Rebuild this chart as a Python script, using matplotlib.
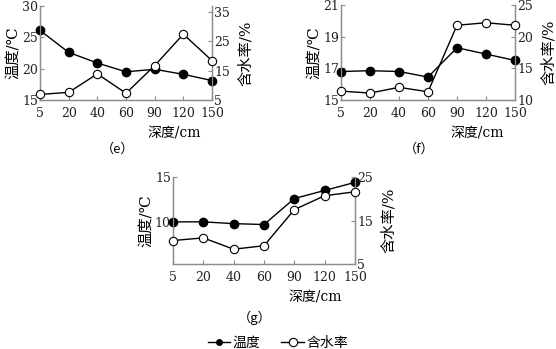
import matplotlib
matplotlib.use("Agg")
import matplotlib.pyplot as plt
from matplotlib.lines import Line2D

plt.rcParams['font.family'] = ['DejaVu Serif', 'Noto Sans CJK SC']

depths = ['5', '20', '40', '60', '90', '120', '150']

temp_e = [26.1, 22.6, 20.9, 19.5, 19.9, 19.1, 18.1]
moist_e = [6.9, 7.6, 13.9, 7.3, 16.7, 27.4, 18.4]

temp_f = [16.8, 16.85, 16.8, 16.45, 18.3, 17.9, 17.5]
moist_f = [11.4, 11.1, 12.0, 11.3, 21.8, 22.2, 21.8]

temp_g = [10.0, 10.0, 9.8, 9.7, 12.6, 13.5, 14.4]
moist_g = [10.4, 11.0, 8.4, 9.2, 17.5, 20.7, 21.6]

W, H = 556, 349
fig = plt.figure(figsize=(W / 100, H / 100), dpi=100)

grey = '#8c8c8c'


def box(l, r, t, b):
    return [l / W, (H - b) / H, (r - l) / W, (b - t) / H]


def panel(rect, temp, moist, tlim, tticks, mlim, mticks, tag, tagy):
    ax = fig.add_axes(rect)
    ax2 = ax.twinx()
    x = range(len(depths))
    ax.plot(x, temp, color='black', lw=1, marker='o', ms=6,
            mfc='black', mec='black', clip_on=False, zorder=3)
    ax2.plot(x, moist, color='black', lw=1, marker='o', ms=6,
             mfc='white', mec='black', mew=0.8, clip_on=False, zorder=3)
    ax.set_xlim(0, len(depths) - 1)
    ax.set_ylim(*tlim)
    ax2.set_ylim(*mlim)
    ax.set_xticks(list(x))
    ax.set_xticklabels(depths)
    ax.set_yticks(tticks)
    ax2.set_yticks(mticks)
    for a in (ax, ax2):
        a.spines['top'].set_visible(False)
        for s in ('left', 'right', 'bottom'):
            a.spines[s].set_color(grey)
            a.spines[s].set_linewidth(0.9)
        a.tick_params(direction='in', length=3, width=0.8, color=grey,
                      labelsize=9, pad=1.5, labelcolor='#222222')
    ax.tick_params(axis='x', pad=5)
    ax.set_ylabel('温度/℃', fontsize=11, labelpad=1)
    ax2.set_ylabel('含水率/%', fontsize=11, rotation=90, labelpad=6)
    ax.set_xlabel('深度/cm', fontsize=10, labelpad=5, x=0.78)
    l, b, w, h = rect
    fig.text(l + w * 0.45, tagy, tag, fontsize=9.5, ha='center', va='center',
             family=['Noto Sans CJK SC'])
    return ax


panel(box(40, 212, 6, 100), temp_e, moist_e, (15, 30), [15, 20, 25, 30],
      (5, 37), [5, 15, 25, 35], '（e）', 1 - 149 / H)
panel(box(341, 515, 5, 100), temp_f, moist_f, (15, 21), [15, 17, 19, 21],
      (10, 25), [10, 15, 20, 25], '（f）', 1 - 149 / H)
panel(box(173, 355, 177, 264), temp_g, moist_g, (5.3, 15), [10, 15],
      (5, 25), [5, 15, 25], '（g）', 1 - 318 / H)

handles = [
    Line2D([], [], color='black', lw=1, marker='o', ms=4, mfc='black'),
    Line2D([], [], color='black', lw=1, marker='o', ms=6, mfc='white', mew=0.8),
]
fig.legend(handles, ['温度', '含水率'], loc='center', ncol=2,
           bbox_to_anchor=(278 / W, 1 - 343 / H), frameon=False,
           fontsize=10, handlelength=1.6, handletextpad=0.2, columnspacing=1.5)

fig.savefig('out.png', dpi=100)
